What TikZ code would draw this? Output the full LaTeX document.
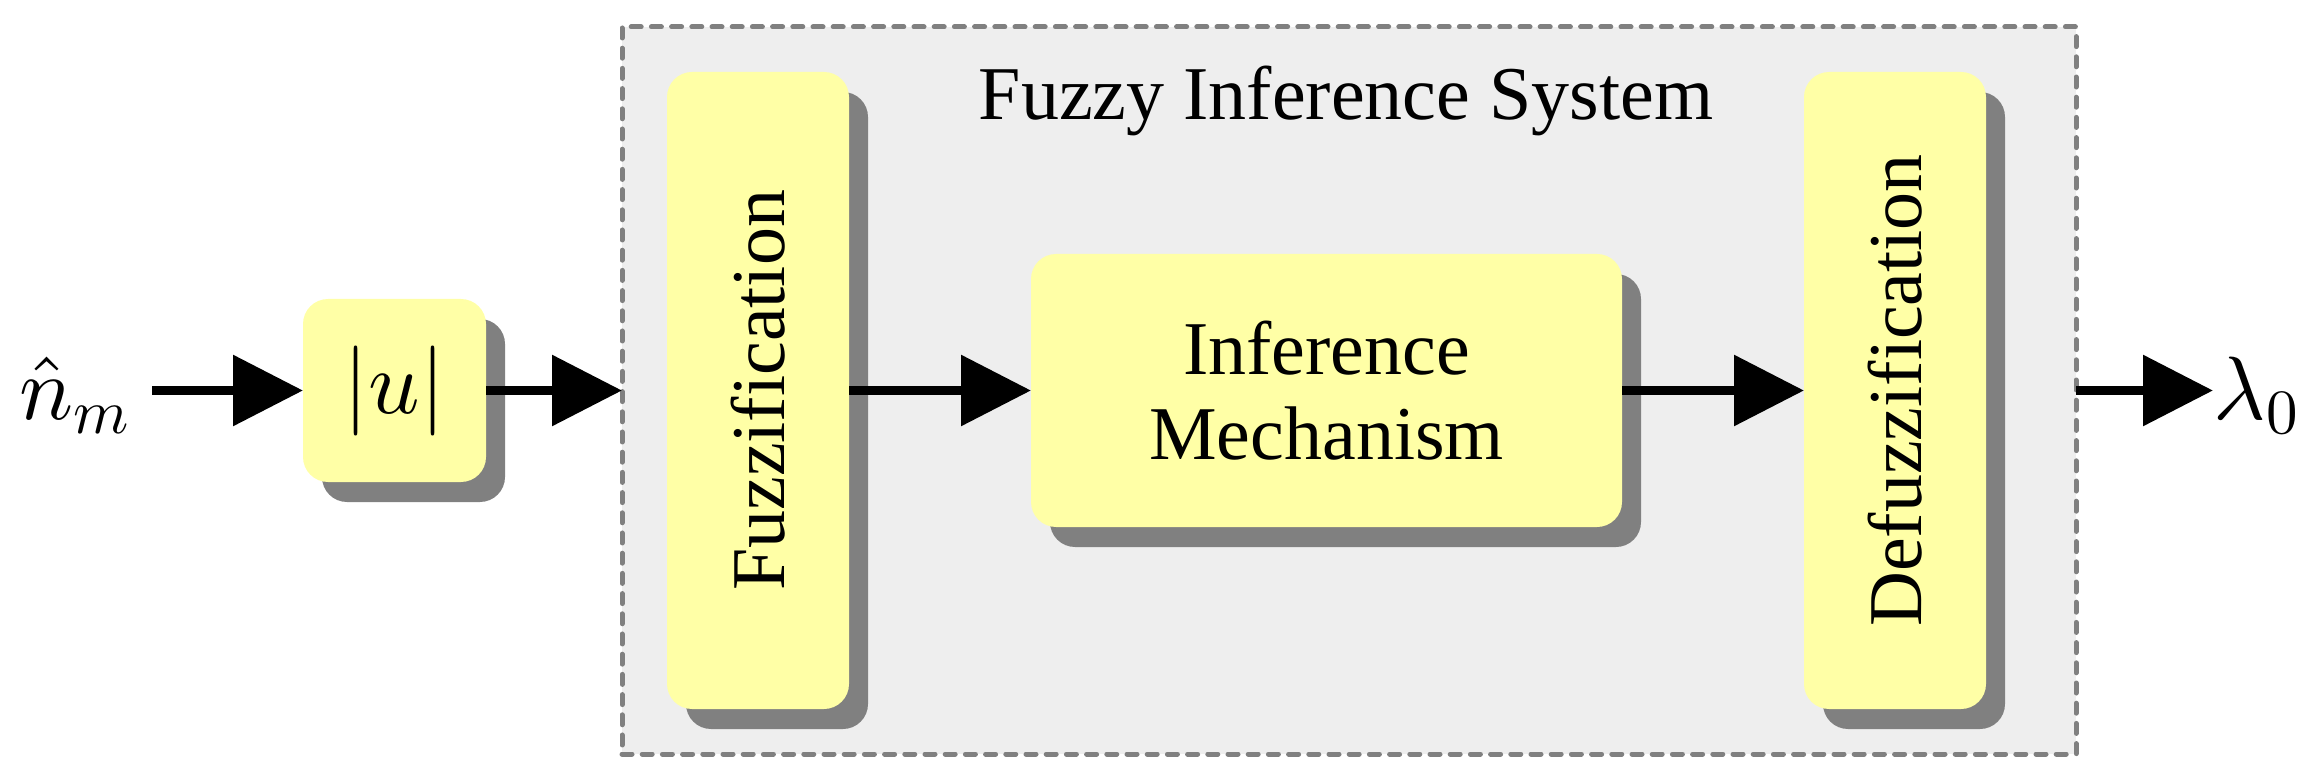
\RequirePackage{fix-cm}
\documentclass[tikz,border=0pt]{standalone}
\usepackage[no-math]{fontspec}
\setmainfont{Liberation Serif}
\DeclareFontShape{OML}{cmm}{m}{it}{<->cmmi10}{}
\DeclareFontShape{OMS}{cmsy}{m}{n}{<->cmsy10}{}
\DeclareFontShape{OT1}{cmr}{m}{n}{<->cmr10}{}
\usepackage{graphicx}
\usetikzlibrary{arrows.meta,shadows}
\definecolor{boxyellow}{RGB}{255,255,166}
\definecolor{fisgray}{RGB}{238,238,238}
\definecolor{shadowgray}{RGB}{128,128,128}
\definecolor{dashgray}{RGB}{128,128,128}
\begin{document}
\begin{tikzpicture}[x=0.25pt,y=-0.25pt,
  blk/.style={fill=boxyellow, rounded corners=6.25pt, inner sep=0pt, outer sep=0pt,
    align=center, font=\fontsize{19}{21.25}\selectfont,
    drop shadow={shadow xshift=4.75pt, shadow yshift=-5pt, fill=shadowgray, opacity=1}},
  conn/.style={line width=2.4pt, -{Triangle[length=17.5pt,width=17.25pt]}},
  mathlbl/.style={font=\fontsize{22.5}{27}\selectfont, inner sep=0pt}
]
\useasboundingbox (0,0) rectangle (2315,781);
\node[draw=dashgray, fill=fisgray, line width=1.25pt, dash pattern=on 2.5pt off 2.55pt,
  line cap=round, minimum width=363.5pt, minimum height=181.75pt,
  inner sep=0pt, outer sep=0pt] (fis) at (1349,390.5) {};
\node[font=\fontsize{19}{21.25}\selectfont, anchor=base, inner sep=0pt] (title) at (1346,120) {Fuzzy Inference System};
\node[blk, minimum width=45.75pt, minimum height=45.75pt, font=\fontsize{22.5}{27}\selectfont] (abs) at (394.5,390.5) {$|u|$};
\node[blk, minimum width=45.5pt, minimum height=159.25pt] (fuzz) at (758,390.5) {\rotatebox{90}{Fuzzification}};
\node[blk, minimum width=147.75pt, minimum height=68.25pt] (inf) at (1326.5,390.5) {Inference\\Mechanism};
\node[blk, minimum width=45.5pt, minimum height=159.25pt] (defuzz) at (1895,390.5) {\rotatebox{90}{Defuzzification}};
\node[mathlbl, anchor=base east, inner xsep=5pt] (nin) at (152,420) {$\hat{n}_m$};
\node[mathlbl, anchor=base west] (lam) at (2213,420) {$\lambda_0$};
\draw[conn] (nin.east |- abs.west) -- (abs.west);
\draw[conn] (abs.east) -- (fis.west);
\draw[conn] (fuzz.east) -- (inf.west);
\draw[conn] (inf.east) -- (defuzz.west);
\draw[conn] (fis.east) -- (lam.west |- fis.east);
\end{tikzpicture}
\end{document}
